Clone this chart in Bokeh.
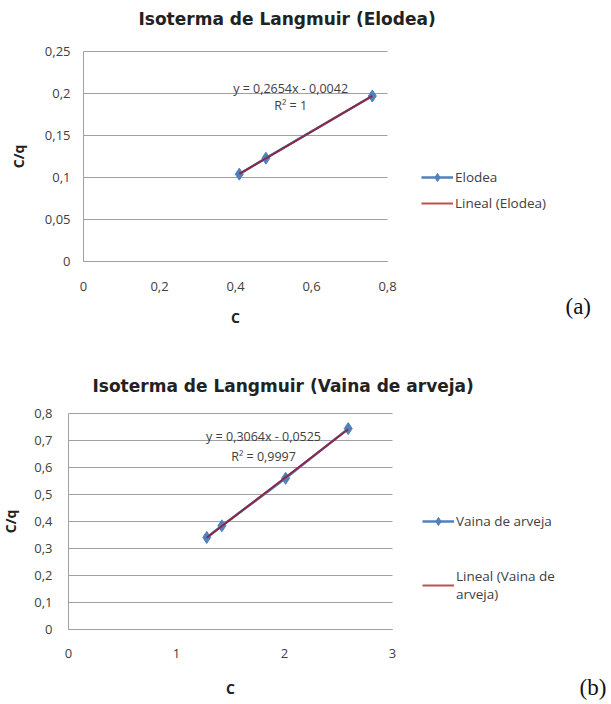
from bokeh.plotting import figure
from bokeh.models import (Range1d, FixedTicker, CustomJSTickFormatter, Legend, LegendItem, Label)
from bokeh.embed import file_html
from bokeh.resources import INLINE
import numpy as np

# ---- data ----
elodea_c = [0.41, 0.48, 0.76]
elodea_cq = [0.104, 0.123, 0.197]
elodea_eq = "y = 0,2654x - 0,0042"
elodea_r2 = "R² = 1"
elodea_xticks = [0, 0.2, 0.4, 0.6, 0.8]
elodea_yticks = [0, 0.05, 0.1, 0.15, 0.2, 0.25]

vaina_c = [1.28, 1.42, 2.01, 2.59]
vaina_cq = [0.341, 0.384, 0.560, 0.744]
vaina_eq = "y = 0,3064x - 0,0525"
vaina_r2 = "R² = 0,9997"
vaina_xticks = [0, 1, 2, 3]
vaina_yticks = [0, 0.1, 0.2, 0.3, 0.4, 0.5, 0.6, 0.7, 0.8]

BLUE = "#4F81BD"
RED = "#C0504D"
TREND = "#8E2744"
GRID = "#A0A0A0"
TXT = "#404040"
FONT = "Open Sans"

fmt = CustomJSTickFormatter(code="return (Math.round(tick*100)/100).toString().replace('.', ',');")


def make_fig(title, xs, ys, xticks, yticks, eq, r2, eq_pos, name, trend_label, lay):
    W, H = lay["W"], lay["H"]
    left, right, top, bottom = lay["area"]      # pixel box of the charted area inside the figure
    x0, x1 = xticks[0], xticks[-1]
    y0, y1 = yticks[0], yticks[-1]
    ux = (x1 - x0) / (right - left)
    uy = (y1 - y0) / (bottom - top)
    # the frame fills the whole figure so that titles, legend and tag are drawn inside it
    xr = Range1d(x0 - left * ux, x0 + (W - left) * ux)
    yr = Range1d(y1 - (H - top) * uy, y1 + top * uy)

    p = figure(width=W, height=H, output_backend="svg", toolbar_location=None,
               x_range=xr, y_range=yr,
               min_border_left=0, min_border_right=0, min_border_top=0, min_border_bottom=0)
    p.outline_line_color = None

    p.xgrid.visible = False
    grid = p.ygrid[0]
    grid.ticker = FixedTicker(ticks=yticks)
    grid.bounds = (y0, y1)
    if "cross_bounds" in grid.properties():
        grid.grid_line_color = GRID
        grid.grid_line_width = 1
        grid.cross_bounds = (x0, x1)
    else:
        grid.visible = False
        p.segment(x0=[x0] * len(yticks), x1=[x1] * len(yticks), y0=yticks, y1=yticks,
                  line_color=GRID, line_width=1, level="underlay")

    for ax, ticks, stand, labstand, bnds in ((p.xaxis, xticks, lay["xstand"], lay["xlabstand"], (x0, x1)),
                                              (p.yaxis, yticks, lay["ystand"], lay["ylabstand"], (y0, y1))):
        ax.ticker = FixedTicker(ticks=ticks)
        ax.formatter = fmt
        ax.bounds = bnds
        ax.fixed_location = 0
        ax.major_tick_out = 0
        ax.major_tick_in = 0
        ax.minor_tick_out = 0
        ax.minor_tick_in = 0
        ax.axis_line_color = GRID
        ax.major_label_text_font = FONT
        ax.major_label_text_font_size = "13px"
        ax.major_label_text_color = TXT
        ax.major_label_standoff = stand
        ax.axis_label_text_font = FONT
        ax.axis_label_text_font_style = "bold"
        ax.axis_label_text_font_size = "14px"
        ax.axis_label_text_color = "#222222"
        ax.axis_label_standoff = labstand
    p.xaxis.axis_label = "C"
    p.yaxis.axis_label = "C/q"

    # trend line from least squares fit of the data
    m, b = np.polyfit(xs, ys, 1)
    tx = [min(xs), max(xs)]
    ty = [m * v + b for v in tx]

    p.line(xs, ys, line_color=BLUE, line_width=2.5)
    p.scatter(xs, ys, marker="diamond", size=12, fill_color=BLUE, line_color=BLUE)
    p.line(tx, ty, line_color=TREND, line_width=2)

    # legend proxies (NaN data, only used for the legend glyphs)
    nan = [float("nan")]
    lg1 = p.line(nan, nan, line_color=BLUE, line_width=2.5)
    lg1m = p.scatter(nan, nan, marker="diamond", size=8, fill_color=BLUE, line_color=BLUE)
    lg2 = p.line(nan, nan, line_color=RED, line_width=2)

    lg = Legend(items=[LegendItem(label=name, renderers=[lg1, lg1m]),
                       LegendItem(label=trend_label, renderers=[lg2])],
                location=lay["leg_loc"], padding=0, margin=0, glyph_width=32, glyph_height=20,
                label_standoff=2, border_line_color=None, background_fill_alpha=0,
                label_text_font=FONT, label_text_font_size="13.5px", label_text_color=TXT,
                label_height=14, spacing=lay["leg_spacing"])
    p.add_layout(lg, "center")

    p.text([eq_pos[0]] * 2, [eq_pos[1], eq_pos[2]], text=[eq, r2], text_align="center",
           text_baseline="middle", text_font_size="12.5px", text_color=TXT,
           text_font={"value": FONT})

    p.add_layout(Label(x=lay["title_pos"][0], y=lay["title_pos"][1], x_units="screen", y_units="screen",
                       text=title, text_font="DejaVu Sans", text_font_size="17px",
                       text_font_style="bold", text_color="#222222", text_baseline="middle"))
    p.add_layout(Label(x=lay["tag_pos"][0], y=lay["tag_pos"][1], x_units="screen", y_units="screen",
                       text=lay["tag"], text_font="Liberation Serif", text_font_size="23px",
                       text_color="#111111", text_baseline="middle"))
    return p


lay1 = dict(W=611, H=345, area=(83, 387, 51, 261),
            xstand=20, xlabstand=14, ystand=13, ylabstand=14,
            title_pos=(138, 327), leg_loc=(421, 132), leg_spacing=6, tag="(a)", tag_pos=(565, 39))
lay2 = dict(W=611, H=358, area=(68, 392, 68, 284),
            xstand=19, xlabstand=18, ystand=16, ylabstand=11,
            title_pos=(92, 318), leg_loc=(422, 100), leg_spacing=36, tag="(b)", tag_pos=(579, 16))

p1 = make_fig("Isoterma de Langmuir (Elodea)", elodea_c, elodea_cq, elodea_xticks, elodea_yticks,
              elodea_eq, elodea_r2, (0.545, 0.206, 0.186), "Elodea", "Lineal (Elodea)", lay1)
p2 = make_fig("Isoterma de Langmuir (Vaina de arveja)", vaina_c, vaina_cq, vaina_xticks, vaina_yticks,
              vaina_eq, vaina_r2, (1.806, 0.715, 0.641), "Vaina de arveja", "Lineal (Vaina de\narveja)", lay2)

open("out.html", "w").write(file_html([p1, p2], INLINE))
